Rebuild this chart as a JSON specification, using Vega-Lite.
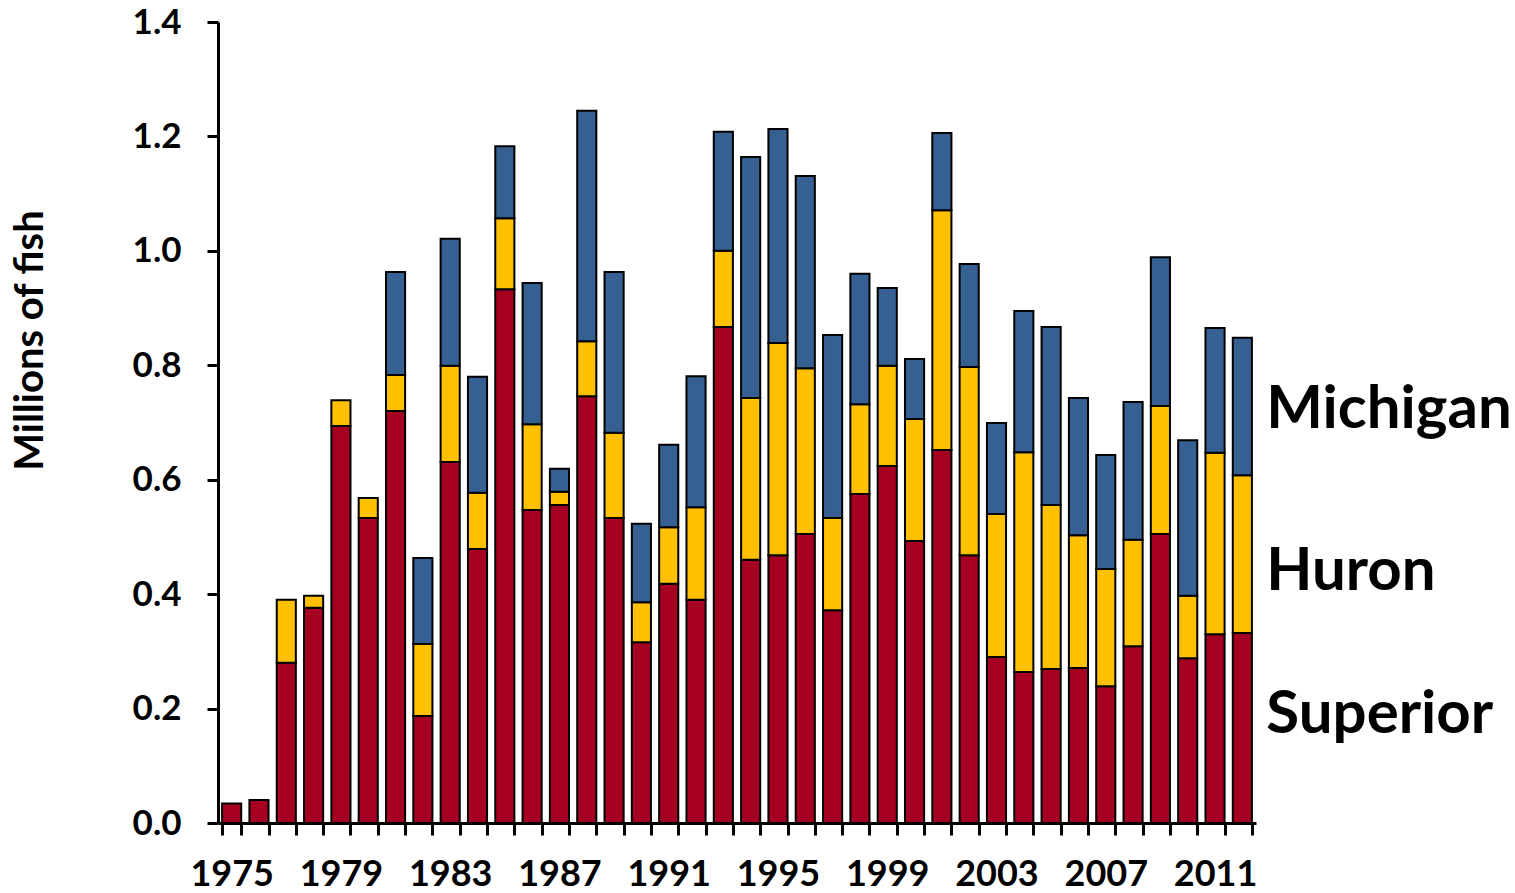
{
  "$schema": "https://vega.github.io/schema/vega-lite/v6.json",
  "width": 1038,
  "height": 801,
  "autosize": {"type": "none"},
  "padding": {"left": 218, "top": 22, "right": 259, "bottom": 70},
  "background": "white",
  "config": {"view": {"stroke": null}, "font": "Lato"},
  "datasets": {
    "bars": [
      {"year": "1975", "lake": "Superior", "o": 1, "v": 0.034},
      {"year": "1976", "lake": "Superior", "o": 1, "v": 0.040},
      {"year": "1977", "lake": "Superior", "o": 1, "v": 0.280},
      {"year": "1977", "lake": "Huron", "o": 2, "v": 0.110},
      {"year": "1978", "lake": "Superior", "o": 1, "v": 0.376},
      {"year": "1978", "lake": "Huron", "o": 2, "v": 0.021},
      {"year": "1979", "lake": "Superior", "o": 1, "v": 0.694},
      {"year": "1979", "lake": "Huron", "o": 2, "v": 0.045},
      {"year": "1980", "lake": "Superior", "o": 1, "v": 0.533},
      {"year": "1980", "lake": "Huron", "o": 2, "v": 0.035},
      {"year": "1981", "lake": "Superior", "o": 1, "v": 0.720},
      {"year": "1981", "lake": "Huron", "o": 2, "v": 0.063},
      {"year": "1981", "lake": "Michigan", "o": 3, "v": 0.180},
      {"year": "1982", "lake": "Superior", "o": 1, "v": 0.187},
      {"year": "1982", "lake": "Huron", "o": 2, "v": 0.126},
      {"year": "1982", "lake": "Michigan", "o": 3, "v": 0.150},
      {"year": "1983", "lake": "Superior", "o": 1, "v": 0.631},
      {"year": "1983", "lake": "Huron", "o": 2, "v": 0.168},
      {"year": "1983", "lake": "Michigan", "o": 3, "v": 0.222},
      {"year": "1984", "lake": "Superior", "o": 1, "v": 0.479},
      {"year": "1984", "lake": "Huron", "o": 2, "v": 0.098},
      {"year": "1984", "lake": "Michigan", "o": 3, "v": 0.203},
      {"year": "1985", "lake": "Superior", "o": 1, "v": 0.933},
      {"year": "1985", "lake": "Huron", "o": 2, "v": 0.124},
      {"year": "1985", "lake": "Michigan", "o": 3, "v": 0.126},
      {"year": "1986", "lake": "Superior", "o": 1, "v": 0.547},
      {"year": "1986", "lake": "Huron", "o": 2, "v": 0.150},
      {"year": "1986", "lake": "Michigan", "o": 3, "v": 0.247},
      {"year": "1987", "lake": "Superior", "o": 1, "v": 0.556},
      {"year": "1987", "lake": "Huron", "o": 2, "v": 0.023},
      {"year": "1987", "lake": "Michigan", "o": 3, "v": 0.040},
      {"year": "1988", "lake": "Superior", "o": 1, "v": 0.746},
      {"year": "1988", "lake": "Huron", "o": 2, "v": 0.096},
      {"year": "1988", "lake": "Michigan", "o": 3, "v": 0.403},
      {"year": "1989", "lake": "Superior", "o": 1, "v": 0.533},
      {"year": "1989", "lake": "Huron", "o": 2, "v": 0.149},
      {"year": "1989", "lake": "Michigan", "o": 3, "v": 0.281},
      {"year": "1990", "lake": "Superior", "o": 1, "v": 0.316},
      {"year": "1990", "lake": "Huron", "o": 2, "v": 0.070},
      {"year": "1990", "lake": "Michigan", "o": 3, "v": 0.137},
      {"year": "1991", "lake": "Superior", "o": 1, "v": 0.418},
      {"year": "1991", "lake": "Huron", "o": 2, "v": 0.099},
      {"year": "1991", "lake": "Michigan", "o": 3, "v": 0.144},
      {"year": "1992", "lake": "Superior", "o": 1, "v": 0.390},
      {"year": "1992", "lake": "Huron", "o": 2, "v": 0.162},
      {"year": "1992", "lake": "Michigan", "o": 3, "v": 0.229},
      {"year": "1993", "lake": "Superior", "o": 1, "v": 0.867},
      {"year": "1993", "lake": "Huron", "o": 2, "v": 0.133},
      {"year": "1993", "lake": "Michigan", "o": 3, "v": 0.208},
      {"year": "1994", "lake": "Superior", "o": 1, "v": 0.460},
      {"year": "1994", "lake": "Huron", "o": 2, "v": 0.283},
      {"year": "1994", "lake": "Michigan", "o": 3, "v": 0.421},
      {"year": "1995", "lake": "Superior", "o": 1, "v": 0.468},
      {"year": "1995", "lake": "Huron", "o": 2, "v": 0.371},
      {"year": "1995", "lake": "Michigan", "o": 3, "v": 0.374},
      {"year": "1996", "lake": "Superior", "o": 1, "v": 0.505},
      {"year": "1996", "lake": "Huron", "o": 2, "v": 0.290},
      {"year": "1996", "lake": "Michigan", "o": 3, "v": 0.336},
      {"year": "1997", "lake": "Superior", "o": 1, "v": 0.372},
      {"year": "1997", "lake": "Huron", "o": 2, "v": 0.161},
      {"year": "1997", "lake": "Michigan", "o": 3, "v": 0.320},
      {"year": "1998", "lake": "Superior", "o": 1, "v": 0.575},
      {"year": "1998", "lake": "Huron", "o": 2, "v": 0.157},
      {"year": "1998", "lake": "Michigan", "o": 3, "v": 0.228},
      {"year": "1999", "lake": "Superior", "o": 1, "v": 0.624},
      {"year": "1999", "lake": "Huron", "o": 2, "v": 0.175},
      {"year": "1999", "lake": "Michigan", "o": 3, "v": 0.136},
      {"year": "2000", "lake": "Superior", "o": 1, "v": 0.493},
      {"year": "2000", "lake": "Huron", "o": 2, "v": 0.213},
      {"year": "2000", "lake": "Michigan", "o": 3, "v": 0.105},
      {"year": "2001", "lake": "Superior", "o": 1, "v": 0.652},
      {"year": "2001", "lake": "Huron", "o": 2, "v": 0.419},
      {"year": "2001", "lake": "Michigan", "o": 3, "v": 0.135},
      {"year": "2002", "lake": "Superior", "o": 1, "v": 0.468},
      {"year": "2002", "lake": "Huron", "o": 2, "v": 0.329},
      {"year": "2002", "lake": "Michigan", "o": 3, "v": 0.180},
      {"year": "2003", "lake": "Superior", "o": 1, "v": 0.290},
      {"year": "2003", "lake": "Huron", "o": 2, "v": 0.250},
      {"year": "2003", "lake": "Michigan", "o": 3, "v": 0.159},
      {"year": "2004", "lake": "Superior", "o": 1, "v": 0.264},
      {"year": "2004", "lake": "Huron", "o": 2, "v": 0.384},
      {"year": "2004", "lake": "Michigan", "o": 3, "v": 0.247},
      {"year": "2005", "lake": "Superior", "o": 1, "v": 0.269},
      {"year": "2005", "lake": "Huron", "o": 2, "v": 0.287},
      {"year": "2005", "lake": "Michigan", "o": 3, "v": 0.311},
      {"year": "2006", "lake": "Superior", "o": 1, "v": 0.271},
      {"year": "2006", "lake": "Huron", "o": 2, "v": 0.232},
      {"year": "2006", "lake": "Michigan", "o": 3, "v": 0.240},
      {"year": "2007", "lake": "Superior", "o": 1, "v": 0.239},
      {"year": "2007", "lake": "Huron", "o": 2, "v": 0.205},
      {"year": "2007", "lake": "Michigan", "o": 3, "v": 0.199},
      {"year": "2008", "lake": "Superior", "o": 1, "v": 0.309},
      {"year": "2008", "lake": "Huron", "o": 2, "v": 0.186},
      {"year": "2008", "lake": "Michigan", "o": 3, "v": 0.241},
      {"year": "2009", "lake": "Superior", "o": 1, "v": 0.505},
      {"year": "2009", "lake": "Huron", "o": 2, "v": 0.224},
      {"year": "2009", "lake": "Michigan", "o": 3, "v": 0.260},
      {"year": "2010", "lake": "Superior", "o": 1, "v": 0.288},
      {"year": "2010", "lake": "Huron", "o": 2, "v": 0.109},
      {"year": "2010", "lake": "Michigan", "o": 3, "v": 0.272},
      {"year": "2011", "lake": "Superior", "o": 1, "v": 0.330},
      {"year": "2011", "lake": "Huron", "o": 2, "v": 0.317},
      {"year": "2011", "lake": "Michigan", "o": 3, "v": 0.218},
      {"year": "2012", "lake": "Superior", "o": 1, "v": 0.332},
      {"year": "2012", "lake": "Huron", "o": 2, "v": 0.276},
      {"year": "2012", "lake": "Michigan", "o": 3, "v": 0.240}
    ],
    "labels": [
      {"year": "2012", "name": "Michigan", "pos": 0.722},
      {"year": "2012", "name": "Huron", "pos": 0.439},
      {"year": "2012", "name": "Superior", "pos": 0.189}
    ]
  },
  "layer": [
    {
      "data": {"name": "bars"},
      "mark": {"type": "bar", "stroke": "black", "strokeWidth": 2},
      "encoding": {
        "x": {
          "field": "year", "type": "ordinal",
          "scale": {"paddingInner": 0.3, "paddingOuter": 0.15},
          "axis": {
            "title": null,
            "labelAngle": 0,
            "labelExpr": "(toNumber(datum.value) - 1975) % 4 == 0 ? datum.label : ''",
            "labelFont": "Lato", "labelFontSize": 36, "labelFontWeight": "bold", "labelColor": "black",
            "labelPadding": 22,
            "tickBand": "extent",
            "tickSize": 12, "tickWidth": 3, "tickColor": "black",
            "domainWidth": 3, "domainColor": "black",
            "labelOverlap": false
          }
        },
        "y": {
          "field": "v", "type": "quantitative", "stack": "zero",
          "scale": {"domain": [0, 1.4], "nice": false},
          "axis": {
            "title": "Millions of fish",
            "titleFont": "Lato", "titleFontSize": 40, "titleFontWeight": "bold", "titleColor": "black",
            "titlePadding": 82,
            "titleY": 318,
            "values": [0, 0.2, 0.4, 0.6, 0.8, 1.0, 1.2, 1.4],
            "format": ".1f",
            "grid": false,
            "labelFont": "Lato", "labelFontSize": 35, "labelFontWeight": "bold", "labelColor": "black",
            "labelPadding": 26,
            "tickSize": 11, "tickWidth": 3, "tickColor": "black",
            "domainWidth": 3, "domainColor": "black"
          }
        },
        "color": {
          "field": "lake", "type": "nominal",
          "scale": {"domain": ["Superior", "Huron", "Michigan"], "range": ["#A50021", "#FFC000", "#376092"]},
          "legend": null
        },
        "order": {"field": "o", "type": "quantitative"}
      }
    },
    {
      "data": {"name": "labels"},
      "mark": {"type": "text", "align": "left", "baseline": "middle", "dx": 24, "font": "Lato", "fontSize": 60, "fontWeight": "bold", "color": "black"},
      "encoding": {
        "x": {"field": "year", "type": "ordinal"},
        "y": {"field": "pos", "type": "quantitative"},
        "text": {"field": "name"}
      }
    }
  ]
}
